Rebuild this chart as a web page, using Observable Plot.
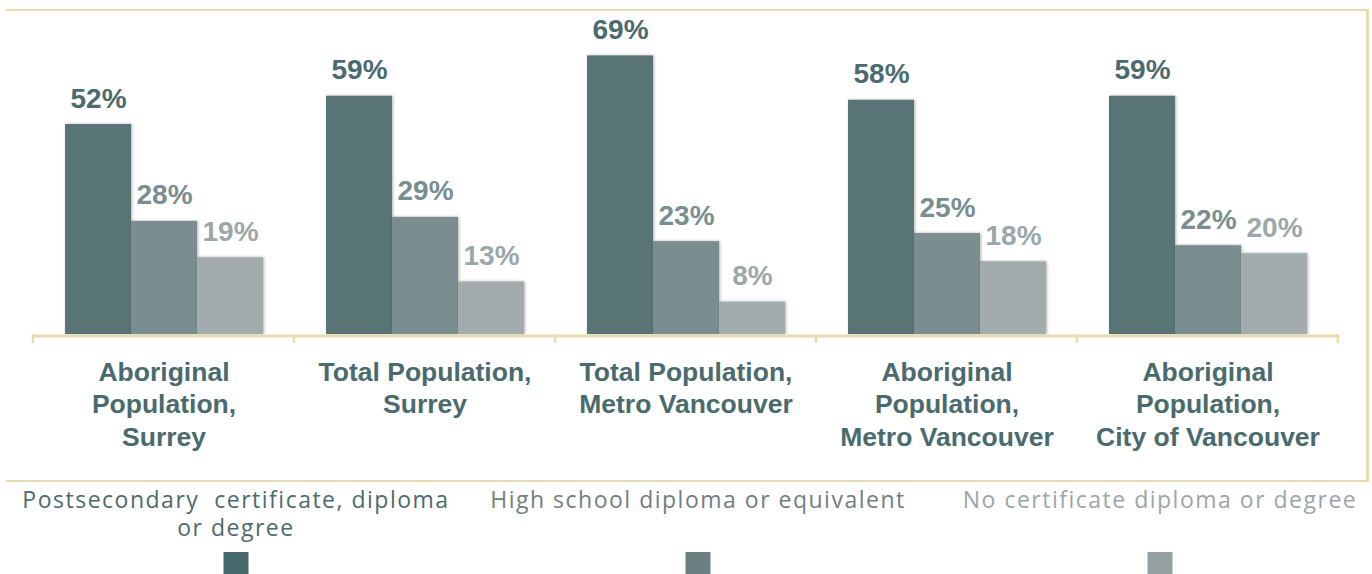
<!DOCTYPE html>
<html><head><meta charset="utf-8">
<script src="https://cdn.jsdelivr.net/npm/d3@7"></script>
<script src="https://cdn.jsdelivr.net/npm/@observablehq/plot@0.6"></script>
<style>
html,body{margin:0;padding:0;background:#fff;width:1372px;height:574px;overflow:hidden;position:relative;}
#frame{position:absolute;left:6px;top:9px;width:1363px;height:473px;box-sizing:border-box;border-top:2px solid #e6dcae;border-right:3px solid #e6dcae;border-bottom:2px solid #e6dcae;}
#chart{position:absolute;left:0;top:0;}
#chart g[aria-label="bar"] rect{filter:drop-shadow(1.5px 0px 1.5px rgba(0,0,0,0.3));}
#legend{position:absolute;left:5px;top:482px;display:flex;}
.col{position:relative;width:462px;height:92px;}
.leg{position:absolute;left:-20px;right:-20px;top:3px;font-family:"Open Sans",sans-serif;font-size:23px;letter-spacing:1.5px;line-height:28px;text-align:center;white-space:pre;}
.sw{position:absolute;left:50%;top:70px;width:25px;height:23px;transform:translateX(-50%);}
</style></head><body>
<div id="frame"></div>
<div id="chart"></div>
<div id="legend"></div>
<script>
const groups = [
  "Aboriginal\nPopulation,\nSurrey",
  "Total Population,\nSurrey",
  "Total Population,\nMetro Vancouver",
  "Aboriginal\nPopulation,\nMetro Vancouver",
  "Aboriginal\nPopulation,\nCity of Vancouver"
];
const seriesNames = [
  "Postsecondary certificate, diploma or degree",
  "High school diploma or equivalent",
  "No certificate diploma or degree"
];
const legendLabels = [
  "Postsecondary  certificate, diploma\nor degree",
  "High school diploma or equivalent",
  "No certificate diploma or degree"
];
const postsecondary = [52, 59, 69, 58, 59];
const highSchool = [28, 29, 23, 25, 22];
const noCertificate = [19, 13, 8, 18, 20];

const barColors = ["#587477", "#7a8d90", "#a2acad"];
const labelColors = ["#4b6b6e", "#7a8d90", "#9ba7a9"];
const legendTextColors = ["#4d6b6d", "#6f8081", "#9ca6a8"];
const swatchColors = ["#496a6d", "#6b7f81", "#949fa2"];
const frameColor = "#e6dcae";
const categoryColor = "#4a6b6e";

const seriesValues = [postsecondary, highSchool, noCertificate];
const data = groups.flatMap((g, i) => seriesNames.map((s, k) => ({group: g, series: s, value: seriesValues[k][i]})));

const chart = Plot.plot({
  width: 1372, height: 480,
  marginTop: 11, marginBottom: 146, marginLeft: 33, marginRight: 34,
  fx: {domain: groups, padding: 0, label: null},
  x: {domain: seriesNames, paddingInner: 0, paddingOuter: 0.448, axis: null},
  y: {domain: [0, 80], axis: null},
  color: {domain: seriesNames, range: barColors},
  style: {fontFamily: "'Liberation Sans', Arial, sans-serif", background: "transparent", overflow: "visible"},
  marks: [
    Plot.barY(data, {fx: "group", x: "series", y: "value", fill: "series"}),
    ...seriesNames.map((s, k) => Plot.text(data.filter(d => d.series === s), {
      fx: "group", x: "series", y: "value", text: d => d.value + "%",
      lineAnchor: "bottom", dy: -17, fill: labelColors[k], fontSize: 28, fontWeight: "bold"
    })),
    Plot.ruleY([0], {stroke: frameColor, strokeWidth: 3, dy: 1.5}),
    Plot.axisFx({anchor: "bottom", tickSize: 0, tickPadding: 23, fontSize: 26.5, fontWeight: "bold",
      fill: categoryColor, lineHeight: 1.23, label: null})
  ]
});
document.getElementById("chart").appendChild(chart);

// boundary ticks on the category axis, derived from the fx scale
const fx = chart.scale("fx");
const y0 = chart.scale("y").apply(0);
const svg = d3.select(chart);
const n = fx.domain.length;
const step = (fx.range[1] - fx.range[0]) / n;
svg.append("g").selectAll("line").data(d3.range(n + 1)).join("line")
  .attr("x1", i => fx.range[0] + i * step).attr("x2", i => fx.range[0] + i * step)
  .attr("y1", y0).attr("y2", y0 + 9)
  .attr("stroke", frameColor).attr("stroke-width", 2.5);

// legend
const legend = d3.select("#legend");
legendLabels.forEach((lab, k) => {
  const col = legend.append("div").attr("class", "col");
  col.append("div").attr("class", "leg").style("color", legendTextColors[k]).text(lab);
  col.append("div").attr("class", "sw").style("background", swatchColors[k]);
});
</script>
</body></html>
